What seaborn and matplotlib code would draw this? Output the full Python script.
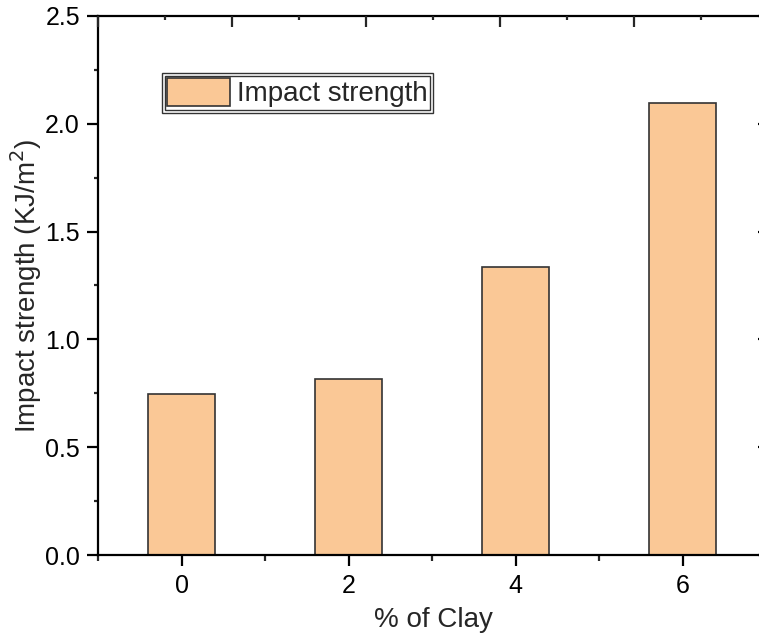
import seaborn as sns
import matplotlib.pyplot as plt
import matplotlib.patches as mpatches
from matplotlib.ticker import MultipleLocator, NullFormatter
import pandas as pd

# values
clay = ["0", "2", "4", "6"]
impact = [0.745, 0.815, 1.335, 2.097]

df = pd.DataFrame({"Clay": clay, "Impact": impact})

sns.set_style("ticks")
plt.rcParams["font.family"] = ["Liberation Sans", "DejaVu Sans"]

fig = plt.figure(figsize=(7.59, 6.42), dpi=100)
ax = fig.add_axes([0.1291, 0.1355, 0.8828, 0.8396])

sns.barplot(data=df, x="Clay", y="Impact", order=clay, color="#FAC896",
            edgecolor="#333333", linewidth=1.2, width=0.4, saturation=1,
            label="Impact strength", ax=ax)

ax.set_xlim(-0.5, 3.51)
ax.set_ylim(0, 2.5)
ax.yaxis.set_major_locator(MultipleLocator(0.5))
ax.yaxis.set_minor_locator(MultipleLocator(0.25))
ax.yaxis.set_major_formatter(plt.FuncFormatter(lambda v, p: f"{v:.1f}"))
ax.xaxis.set_minor_locator(MultipleLocator(1.0, offset=0.5))

for s in ax.spines.values():
    s.set_linewidth(1.6)
    s.set_color("black")
    s.set_visible(True)

ax.tick_params(axis="both", which="major", direction="out", length=8, width=1.6,
               labelsize=18, colors="black")
ax.tick_params(axis="x", which="major", pad=6)
ax.tick_params(axis="y", which="major", pad=5)
ax.tick_params(axis="x", which="minor", direction="out", length=4, width=1.6)
ax.tick_params(axis="y", which="minor", direction="out", length=3, width=1.6)

# right axis: inward major ticks only (spine itself falls just off the image)
ax.tick_params(axis="y", which="major", right=True)
ax.tick_params(axis="y", which="minor", right=False)
for t in ax.yaxis.get_major_ticks():
    t.tick2line.set_marker(0)  # pointing left = inward
    t.tick2line.set_markersize(7)
    t.tick2line.set_markeredgewidth(1.6)

# top axis has its own tick spacing in the reference
top = ax.twiny()
top.set_xlim(0, 5)
top.xaxis.set_major_locator(MultipleLocator(1))
top.xaxis.set_minor_locator(MultipleLocator(0.5))
top.xaxis.set_major_formatter(NullFormatter())
top.tick_params(axis="x", which="major", direction="in", length=8, width=1.6, top=True)
top.tick_params(axis="x", which="minor", direction="in", length=3, width=1.6, top=True)
for s in top.spines.values():
    s.set_visible(False)

ax.set_xlabel("% of Clay", fontsize=20, labelpad=6)
ax.set_ylabel("Impact strength (KJ/m$^{2}$)", fontsize=20, labelpad=1)

leg = ax.legend(loc="upper left", bbox_to_anchor=(0.1, 0.8887), fontsize=20,
                handlelength=2.27, handleheight=1.15, handletextpad=0.25,
                borderpad=0.08, borderaxespad=0, fancybox=False, framealpha=1)
leg.get_frame().set_edgecolor("#333333")
leg.get_frame().set_linewidth(1.0)
for h in leg.legend_handles:
    h.set_edgecolor("#333333")
    h.set_linewidth(1.2)

# second outline round the legend, as in the reference
fig.canvas.draw()
bb = leg.get_window_extent().transformed(fig.transFigure.inverted())
pad_x, pad_y = 3 / 759, 3 / 642
fig.add_artist(mpatches.Rectangle((bb.x0 - pad_x, bb.y0 - pad_y),
                                  bb.width + 2 * pad_x, bb.height + 2 * pad_y,
                                  transform=fig.transFigure, fill=False,
                                  edgecolor="#333333", linewidth=1.0))

fig.savefig("out.png", dpi=100)
